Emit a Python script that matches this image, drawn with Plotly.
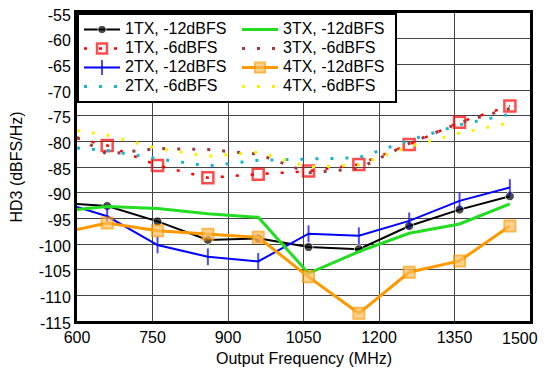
import plotly.graph_objects as go

freq = [600, 660, 760, 860, 960, 1060, 1160, 1260, 1360, 1460]

tx1_m12 = [-92.2, -92.6, -95.6, -99.2, -98.9, -100.6, -101.0, -96.5, -93.3, -90.7]
tx1_m6 = [-79.4, -80.8, -84.7, -87.1, -86.4, -85.8, -84.5, -80.6, -76.3, -73.1]
tx2_m12 = [-92.8, -94.6, -100.2, -102.5, -103.4, -98.0, -98.4, -95.5, -91.6, -89.0]
tx2_m6 = [-81.3, -81.8, -83.4, -84.8, -83.7, -83.5, -83.2, -79.8, -76.8, -74.7]
tx3_m12 = [-93.3, -92.7, -93.1, -94.1, -94.8, -105.7, -101.5, -97.9, -96.1, -92.2]
tx3_m6 = [-79.2, -82.5, -81.4, -81.6, -82.5, -86.1, -85.3, -80.4, -76.4, -73.6]
tx4_m12 = [-97.2, -95.9, -97.4, -98.1, -98.7, -106.4, -113.5, -105.5, -103.3, -96.5]
tx4_m6 = [-77.9, -78.8, -81.4, -82.9, -82.1, -85.0, -84.6, -81.0, -78.4, -76.4]

names = ["1TX, -12dBFS", "1TX, -6dBFS", "2TX, -12dBFS", "2TX, -6dBFS",
         "3TX, -12dBFS", "3TX, -6dBFS", "4TX, -12dBFS", "4TX, -6dBFS"]

x_ticks = [600, 750, 900, 1050, 1200, 1350, 1500]
y_ticks = list(range(-115, -54, 5))
x_title = "Output Frequency (MHz)"
y_title = "HD3 (dBFS/Hz)"

DOT = "3px,12px"

def msize(s):
    return [0] + [s] * (len(freq) - 1)

series = {
    "1TX, -12dBFS": dict(y=tx1_m12, line=dict(color="black", width=2),
                         marker=dict(symbol="circle", size=msize(9), color="black"), mode="lines+markers"),
    "1TX, -6dBFS": dict(y=tx1_m6, line=dict(color="#ff0000", width=2.5, dash=DOT),
                        marker=dict(symbol="square-open", size=msize(11), color="#ff0000", line=dict(width=2.5)),
                        mode="lines+markers"),
    "2TX, -12dBFS": dict(y=tx2_m12, line=dict(color="#0000ff", width=2),
                         marker=dict(symbol="line-ns", size=msize(12), color="#0000ff", line=dict(width=2, color="#0000ff")),
                         mode="lines+markers"),
    "2TX, -6dBFS": dict(y=tx2_m6, line=dict(color="#1ab4cc", width=3, dash=DOT), mode="lines"),
    "3TX, -12dBFS": dict(y=tx3_m12, line=dict(color="#22dd22", width=3), mode="lines"),
    "3TX, -6dBFS": dict(y=tx3_m6, line=dict(color="#9b3b3b", width=3, dash=DOT), mode="lines"),
    "4TX, -12dBFS": dict(y=tx4_m12, line=dict(color="#ff9900", width=3),
                         marker=dict(symbol="square", size=msize(11), color="#ffc060", line=dict(width=2, color="#ff9900")),
                         mode="lines+markers"),
    "4TX, -6dBFS": dict(y=tx4_m6, line=dict(color="#ffee00", width=3, dash=DOT), mode="lines"),
}

# legend fills row-wise; order so that columns read as in the reference
legend_order = ["1TX, -12dBFS", "3TX, -12dBFS", "1TX, -6dBFS", "3TX, -6dBFS",
                "2TX, -12dBFS", "4TX, -12dBFS", "2TX, -6dBFS", "4TX, -6dBFS"]

fig = go.Figure()
for n in names:
    s = series[n]
    fig.add_trace(go.Scatter(x=freq, y=s["y"], name='<span style="font-size:16px">%s</span>' % n,
                             mode=s["mode"], line=s["line"],
                             marker=s.get("marker"), legendrank=legend_order.index(n) + 1))

# last x tick label is placed as an annotation ending at the visible right edge
x_ticktext = [str(v) for v in x_ticks[:-1]] + [""]

font = "Liberation Sans, Arial, sans-serif"
fig.update_layout(
    template="none",
    width=540, height=360,
    margin=dict(l=69, r=18, t=5, b=47, autoexpand=False),
    paper_bgcolor="white", plot_bgcolor="white",
    font=dict(family=font, size=16, color="black"),
    showlegend=True,
    legend=dict(x=0, y=1, xanchor="left", yanchor="top", orientation="h",
                entrywidth=107, bgcolor="white", bordercolor="black", borderwidth=2,
                font=dict(size=12), tracegroupgap=0, itemwidth=36),
    xaxis=dict(range=[600, 1500], tickvals=x_ticks, ticktext=x_ticktext,
               showgrid=True, gridcolor="#444", gridwidth=1, zeroline=False, automargin=False,
               showline=True, linecolor="black", linewidth=3, mirror=True, ticks="",
               tickfont=dict(size=16), ticklabeloverflow="allow"),
    yaxis=dict(range=[-115, -55], tickvals=y_ticks, ticktext=[str(v) for v in y_ticks],
               showgrid=True, gridcolor="#444", gridwidth=1, zeroline=False, automargin=False,
               showline=True, linecolor="black", linewidth=3, mirror=True, ticks="",
               tickfont=dict(size=16), ticklabeloverflow="allow", ticklabelshift=2,
               title=dict(text=y_title, standoff=18, font=dict(size=16))),
    annotations=[
        dict(text=x_title, xref="paper", yref="paper", x=0.5, y=0,
             xanchor="center", yanchor="top", yshift=-27, showarrow=False,
             font=dict(size=16)),
        dict(text=str(x_ticks[-1]), xref="x", yref="paper", x=x_ticks[-1], y=0,
             xanchor="right", yanchor="top", xshift=10, yshift=-7, showarrow=False,
             font=dict(size=16)),
    ],
)

fig.write_html("out.html")
